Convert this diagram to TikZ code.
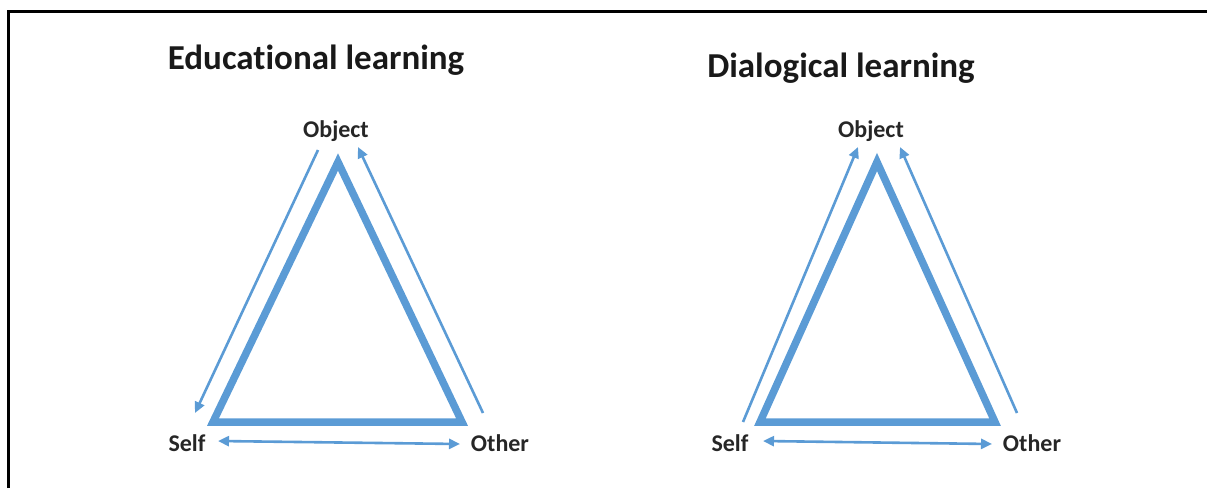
\documentclass[tikz,border=0pt]{standalone}
\usepackage{fontspec}
\setmainfont{Carlito}[Ligatures=NoCommon]
\usepackage{xcolor}
\usetikzlibrary{arrows.meta}
\definecolor{triblue}{HTML}{5B9BD5}

\begin{document}
\begin{tikzpicture}[x=1pt, y=-1pt,
    side/.style={line width=7.5pt, triblue, line join=miter},
    flow/.style={line width=2.6pt, triblue, -{Triangle[length=11pt, width=10pt]}},
    both/.style={line width=2.6pt, triblue, {Triangle[length=11pt, width=10pt]}-{Triangle[length=11pt, width=10pt]}},
    vertex/.style={font=\bfseries\fontsize{24}{26}\selectfont, text=black!85, inner sep=0pt, anchor=base},
    heading/.style={font=\bfseries\fontsize{35}{40}\selectfont, text=black!90, inner sep=0pt, anchor=base}]
      \useasboundingbox (0, 0) rectangle (1207, 488);

      \draw[line width=3pt, black] (8, 488) -- (8, 11) -- (1207, 11);

      % educational learning
      \coordinate (A) at (338, 162);
      \coordinate (B) at (213, 422);
      \coordinate (C) at (462, 422);

      \coordinate (A1) at (318, 150);
      \coordinate (B1) at (195, 413);
      \coordinate (C1) at (483, 413);
      \coordinate (A2) at (358, 147);
      \coordinate (B2) at (218, 441);
      \coordinate (C2) at (460, 444);

      \draw[side] (A)--(B)--(C)--cycle;
      \draw[flow] (A1)--(B1);
      \draw[flow] (C1)--(A2);
      \draw[both] (B2)--(C2);

      \node[heading] (titleL) at (316, 69) {Educational learning};
      \node[vertex] (objL) at (336, 137) {Object};
      \node[vertex] (selfL) at (187, 451) {Self};
      \node[vertex] (otherL) at (500, 451) {Other};

      % dialogical learning
      \coordinate (D) at (877, 162);
      \coordinate (E) at (760, 422);
      \coordinate (F) at (995, 422);

      \coordinate (D1) at (858, 147);
      \coordinate (E1) at (743, 422);
      \coordinate (F1) at (1017, 413);
      \coordinate (D2) at (900, 147);
      \coordinate (E2) at (763, 441);
      \coordinate (F2) at (992, 444);

      \draw[side] (D)--(E)--(F)--cycle;
      \draw[flow] (E1)--(D1);
      \draw[flow] (F1)--(D2);
      \draw[both] (E2)--(F2);

      \node[heading] (titleR) at (841, 77) {Dialogical learning};
      \node[vertex] (objR) at (871, 137) {Object};
      \node[vertex] (selfR) at (730, 451) {Self};
      \node[vertex] (otherR) at (1032, 451) {Other};
\end{tikzpicture}
\end{document}
